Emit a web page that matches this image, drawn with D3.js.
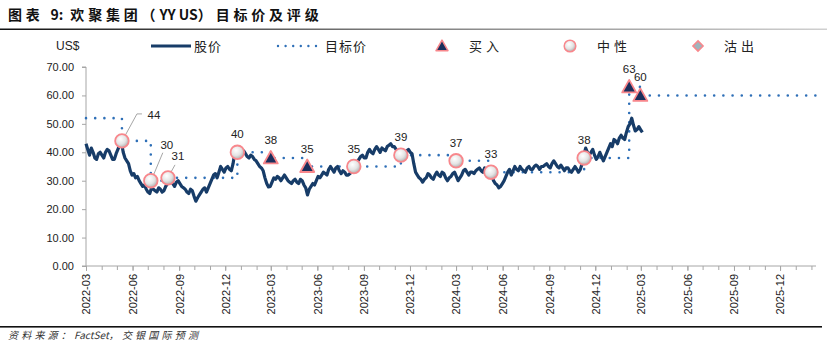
<!DOCTYPE html>
<html>
<head>
<meta charset="utf-8">
<script src="https://cdn.jsdelivr.net/npm/d3@7"></script>
<style>
  body { margin: 0; background: #fff; }
  svg { display: block; }
  .axis path, .axis line { stroke: #a6a6a6; }
  .axis text { font-family: "Liberation Sans", Arial, sans-serif; font-size: 11px; fill: #222; }
</style>
</head>
<body>
<script>
// share price (US$), twice a week from 2022-03-01
var priceStart = '2022-03-01';
var priceValues = [
  43, 41, 39, 41.5, 40, 38, 37.5, 39.5, 40, 39, 38, 40, 41, 40.5, 39, 37.5, 37.5, 39.5, 41, 42.5,
  43.5, 40, 38, 37, 36, 33.5, 32, 32.5, 31, 31.5, 30, 29, 28, 28.5, 27, 26, 25.5, 27.5, 27, 26.5,
  26, 27.5, 27, 26, 26.5, 28, 29, 30, 29.5, 29, 28, 29.5, 30, 29, 28, 27.5, 27, 26, 25.5, 27,
  26.5, 24.5, 22.8, 24, 25, 26, 27, 27.5, 26, 27.5, 29, 30.5, 32, 32.5, 31, 33, 35, 34, 33, 34.5,
  35, 34, 33.5, 36, 40, 41, 41.5, 40, 39, 40.5, 39.5, 38.5, 38, 39, 38.5, 37.5, 37, 36, 35, 34.5,
  33.5, 31, 29, 27.8, 28, 29.5, 31, 30.5, 31.5, 31, 30, 31, 32, 31, 30, 29.5, 29, 30, 30.5, 29.5,
  29, 30.5, 30, 28.5, 27.5, 25, 27, 28, 29, 28.5, 30, 31.5, 31, 32, 33, 32.5, 32, 34, 35, 34,
  33, 34.5, 35, 33.5, 32.5, 33.5, 33, 32, 32, 32.5, 33.5, 34, 35, 36.5, 37.5, 38.5, 39, 38, 38, 40,
  41, 40, 39.5, 41, 42, 41, 40, 41.5, 41, 40.5, 42, 42.5, 43, 42, 42, 41, 40, 39, 38, 37.5,
  39, 40.5, 41, 40, 39.5, 36, 33, 32, 31, 30.5, 29.5, 30.5, 31, 32.5, 32, 31, 30.5, 32, 33, 32,
  31.5, 33, 32.5, 31, 30, 31, 31.5, 32.5, 33, 31.5, 30, 31, 32, 33.5, 34, 33, 32, 33, 33, 32.5,
  33.5, 34, 34.5, 33.5, 33, 34.5, 34, 33, 33.5, 32, 30, 29, 28.5, 27.5, 28, 29, 30, 31.5, 33, 34,
  32, 33.5, 35, 34, 33.5, 35, 34, 33.5, 33, 34.5, 35, 34, 34, 35, 35.5, 35, 34, 35, 35, 35.5,
  36, 35, 34.5, 36, 37, 36, 35, 34.5, 35.5, 34.5, 33.5, 34.5, 34.5, 33.5, 33, 34, 35, 34, 33, 34,
  36, 39, 41.5, 40, 39, 40, 41, 39, 37.5, 38.5, 40, 38.5, 37, 38.5, 40, 41.5, 43, 42, 44.5, 44,
  43, 45, 46, 45, 44.5, 47, 49, 50, 52, 49.5, 47.5, 48, 49, 48, 47
];

// rating changes
var ratingDates = ['2022-05-11', '2022-07-07', '2022-08-10', '2022-12-25', '2023-03-01', '2023-05-12',
  '2023-08-12', '2023-11-13', '2024-03-01', '2024-05-09', '2024-11-09', '2025-02-06', '2025-02-28'];
var ratingTargets = [44, 30, 31, 40, 38, 35, 35, 39, 37, 33, 38, 63, 60];
var ratingTypes = ['中性', '中性', '中性', '中性', '买入', '买入', '中性', '中性', '中性', '中性', '中性', '买入', '买入'];

// target price before first rating in view
var targetStartDate = '2022-03-01';
var targetStartValue = 52;

var yTicks = [0, 10, 20, 30, 40, 50, 60, 70];
var xTickLabels = ['2022-03', '2022-06', '2022-09', '2022-12', '2023-03', '2023-06', '2023-09', '2023-12',
  '2024-03', '2024-06', '2024-09', '2024-12', '2025-03', '2025-06', '2025-09', '2025-12'];

var legendLabels = ['股价', '目标价', '买入', '中性', '沽出'];
var titleParts = ['图表 ', '9:', ' 欢聚集团（', 'YY US', '）目标价及评级'];
var sourceParts = ['资料来源：', 'FactSet', '，交银国际预测'];

// layout
var W = 827, H = 352;
var plot = {left: 86, right: 816, top: 67, bottom: 266};
var axisEnd = '2026-02-10';
var labelOffsets = {
  0: {dx: 32, dy: -26, leader: [[3, -5], [15, -27], [20, -27]]},
  1: {dx: 16, dy: -36, leader: [[2, -4], [12, -28]]},
  2: {dx: 10, dy: -22, leader: [[2, -4], [7, -13]]}
};

var parse = d3.timeParse('%Y-%m-%d');
var parseMonth = d3.timeParse('%Y-%m');

var priceData = priceValues.map(function (v, i) {
  return {date: d3.timeHour.offset(parse(priceStart), 84 * i), value: v};
});

var ratings = ratingDates.map(function (d, i) {
  return {date: parse(d), value: ratingTargets[i], type: ratingTypes[i]};
});

var targetData = [{date: parse(targetStartDate), value: targetStartValue}]
  .concat(ratings.map(function (r) { return {date: r.date, value: r.value}; }))
  .concat([{date: parse(axisEnd), value: ratingTargets[ratingTargets.length - 1]}]);

var xScale = d3.scaleTime()
  .domain([parse('2022-03-01'), parse(axisEnd)])
  .range([plot.left, plot.right]);

var yScale = d3.scaleLinear()
  .domain([0, 70])
  .range([plot.bottom, plot.top]);

var svg = d3.select('body').append('svg')
  .attr('width', W)
  .attr('height', H);

var defs = svg.append('defs');
var grad = defs.append('radialGradient')
  .attr('id', 'ball')
  .attr('cx', '40%').attr('cy', '35%').attr('r', '70%');
grad.append('stop').attr('offset', '0%').attr('stop-color', '#ffffff');
grad.append('stop').attr('offset', '55%').attr('stop-color', '#e4e4e4');
grad.append('stop').attr('offset', '100%').attr('stop-color', '#a9a9a9');

var lineGrad = defs.append('linearGradient')
  .attr('id', 'rule')
  .attr('x1', '0%').attr('x2', '100%');
lineGrad.append('stop').attr('offset', '0%').attr('stop-color', '#111');
lineGrad.append('stop').attr('offset', '45%').attr('stop-color', '#777');
lineGrad.append('stop').attr('offset', '100%').attr('stop-color', '#d0d0d0');

// spaced CJK runs, tight latin runs
function spacedText(sel, parts, spacing) {
  parts.forEach(function (p, i) {
    sel.append('tspan')
      .style('letter-spacing', i % 2 === 0 ? spacing : '0px')
      .text(p);
  });
}

// title
var title = svg.append('text')
  .attr('x', 8)
  .attr('y', 20)
  .style('font-family', '"Noto Sans CJK SC", sans-serif')
  .style('font-weight', 'bold')
  .style('font-size', '14px')
  .style('fill', '#111');
spacedText(title, titleParts, '3.8px');

svg.append('rect')
  .attr('x', 0).attr('y', 28.5)
  .attr('width', W).attr('height', 1.5)
  .attr('fill', 'url(#rule)');

// axes
var yAxis = d3.axisLeft(yScale)
  .tickValues(yTicks)
  .tickFormat(d3.format('.2f'))
  .tickSize(4)
  .tickPadding(8);

svg.append('g')
  .attr('class', 'axis')
  .attr('transform', 'translate(' + plot.left + ',0)')
  .call(yAxis)
  .call(function (g) { g.select('.domain').attr('d', 'M-4,' + plot.bottom + 'H0V' + plot.top + 'H-4'); });

var minorAxis = d3.axisBottom(xScale)
  .ticks(d3.timeMonth.every(1))
  .tickFormat('')
  .tickSize(4);

svg.append('g')
  .attr('class', 'axis')
  .attr('transform', 'translate(0,' + plot.bottom + ')')
  .call(minorAxis)
  .call(function (g) { g.select('.domain').attr('d', 'M' + plot.left + ',0H' + plot.right); });

var xAxis = d3.axisBottom(xScale)
  .tickValues(xTickLabels.map(parseMonth))
  .tickFormat(d3.timeFormat('%Y-%m'))
  .tickSize(5);

svg.append('g')
  .attr('class', 'axis')
  .attr('transform', 'translate(0,' + plot.bottom + ')')
  .call(xAxis)
  .call(function (g) {
    g.select('.domain').remove();
    g.selectAll('text')
      .attr('transform', 'rotate(-90)')
      .attr('x', -8)
      .attr('y', 0)
      .attr('dy', '0.35em')
      .style('text-anchor', 'end');
  });

// target price (dotted step line)
var targetLine = d3.line()
  .x(function (d) { return xScale(d.date); })
  .y(function (d) { return yScale(d.value); })
  .curve(d3.curveStepAfter);

svg.append('path')
  .datum(targetData)
  .attr('d', targetLine)
  .attr('fill', 'none')
  .attr('stroke', '#2e6fb7')
  .attr('stroke-width', 2.6)
  .attr('stroke-linecap', 'round')
  .attr('stroke-dasharray', '0 9.2');

// share price
var priceLine = d3.line()
  .x(function (d) { return xScale(d.date); })
  .y(function (d) { return yScale(d.value); });

svg.append('path')
  .datum(priceData)
  .attr('d', priceLine)
  .attr('fill', 'none')
  .attr('stroke', '#173c68')
  .attr('stroke-width', 3.2)
  .attr('stroke-linejoin', 'round');

// markers
var triPath = 'M0,-7L7,5.5L-7,5.5Z';
var diamondPath = 'M0,-6L6,0L0,6L-6,0Z';

function drawMarker(sel, type) {
  if (type === '买入') {
    sel.append('path').attr('d', triPath)
      .attr('fill', '#1b2f5c').attr('stroke', '#f8878c').attr('stroke-width', 1.8)
      .attr('stroke-linejoin', 'round');
  } else if (type === '中性') {
    sel.append('circle').attr('r', 6.8)
      .attr('fill', 'url(#ball)').attr('stroke', '#f8878c').attr('stroke-width', 1.8);
  } else {
    sel.append('path').attr('d', diamondPath)
      .attr('fill', '#9fb4bc').attr('stroke', '#f8878c').attr('stroke-width', 1.8);
  }
}

var markerG = svg.append('g').selectAll('g')
  .data(ratings)
  .enter()
  .append('g')
  .attr('transform', function (d) {
    return 'translate(' + xScale(d.date) + ',' + yScale(d.value) + ')';
  });

markerG.each(function (d, i) {
  var g = d3.select(this);
  var off = labelOffsets[i] || {dx: 0, dy: -18};
  if (off.leader) {
    g.append('path')
      .attr('d', d3.line()(off.leader))
      .attr('fill', 'none')
      .attr('stroke', '#a6a6a6')
      .attr('stroke-width', 1);
  }
  drawMarker(g, d.type);
  g.append('text')
    .attr('x', off.dx)
    .attr('y', off.dy)
    .attr('dy', '0.35em')
    .style('text-anchor', 'middle')
    .style('font-family', '"Liberation Sans", Arial, sans-serif')
    .style('font-size', '11.5px')
    .style('fill', '#222')
    .text(d.value);
});

// legend
var legendY = 46;
var legendFont = '"Noto Sans CJK SC", sans-serif';

svg.append('text')
  .attr('x', 56).attr('y', legendY).attr('dy', '0.35em')
  .style('font-family', '"Liberation Sans", Arial, sans-serif')
  .style('font-size', '12px')
  .style('fill', '#222')
  .text('US$');

svg.append('line')
  .attr('x1', 151).attr('x2', 191).attr('y1', legendY).attr('y2', legendY)
  .attr('stroke', '#173c68').attr('stroke-width', 3);
svg.append('line')
  .attr('x1', 278).attr('x2', 316).attr('y1', legendY).attr('y2', legendY)
  .attr('stroke', '#2e6fb7').attr('stroke-width', 2.4)
  .attr('stroke-linecap', 'round').attr('stroke-dasharray', '0 7.6');

drawMarker(svg.append('g').attr('transform', 'translate(442,' + legendY + ') scale(0.85)'), '买入');
drawMarker(svg.append('g').attr('transform', 'translate(570,' + legendY + ') scale(0.85)'), '中性');
drawMarker(svg.append('g').attr('transform', 'translate(698,' + legendY + ') scale(0.85)'), '沽出');

var legendTextX = [194, 325, 469, 597, 724];
legendLabels.forEach(function (t, i) {
  svg.append('text')
    .attr('x', legendTextX[i]).attr('y', legendY).attr('dy', '0.35em')
    .style('font-family', legendFont)
    .style('font-size', '13px')
    .style('letter-spacing', i >= 2 ? '4px' : '1px')
    .style('fill', '#222')
    .text(t);
});

// footer
svg.append('rect')
  .attr('x', 0).attr('y', 326)
  .attr('width', 822).attr('height', 1.6)
  .attr('fill', '#111');

var source = svg.append('text')
  .attr('x', 8).attr('y', 339)
  .style('font-family', '"Noto Sans CJK SC", sans-serif')
  .style('font-style', 'italic')
  .style('font-size', '10px')
  .style('fill', '#333');
spacedText(source, sourceParts, '3.2px');
</script>
</body>
</html>
